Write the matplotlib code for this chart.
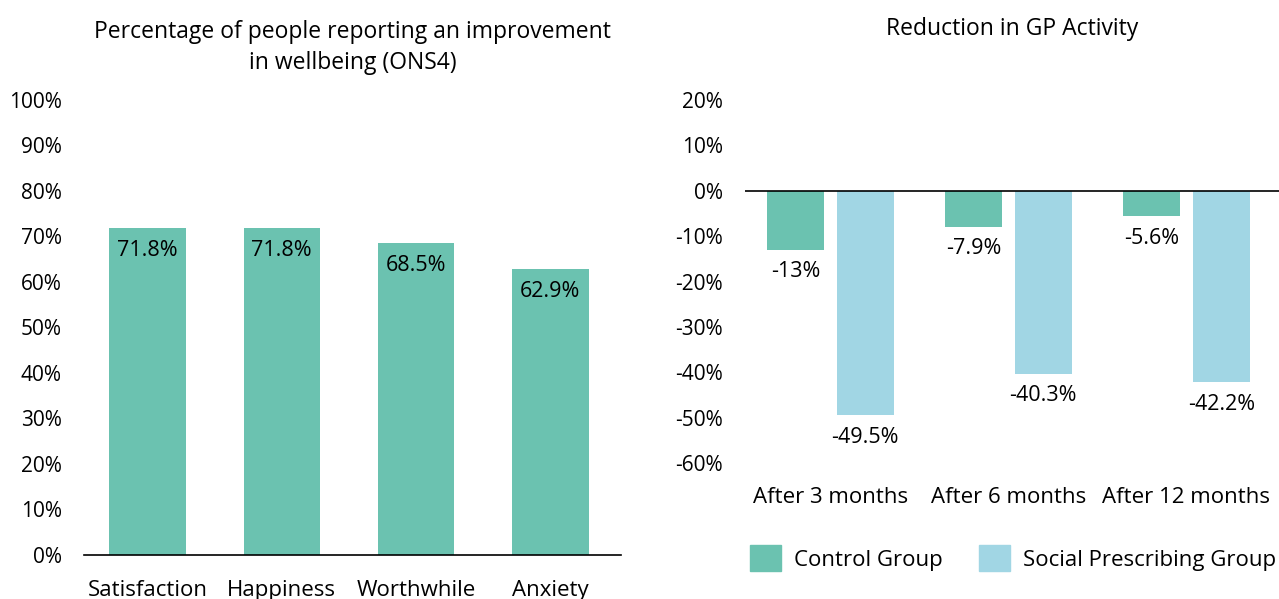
import numpy as np
import matplotlib
matplotlib.use("Agg")
import matplotlib.pyplot as plt
from matplotlib.patches import Patch

plt.rcParams['font.family'] = ['Open Sans', 'DejaVu Sans']

# wellbeing chart
wb_cats = ["Satisfaction", "Happiness", "Worthwhile", "Anxiety"]
wb_vals = [71.8, 71.8, 68.5, 62.9]

# GP activity chart
gp_cats = ["After 3 months", "After 6 months", "After 12 months"]
control_vals = [-13, -7.9, -5.6]
sp_vals = [-49.5, -40.3, -42.2]
control_labels = ["-13%", "-7.9%", "-5.6%"]
sp_labels = ["-49.5%", "-40.3%", "-42.2%"]

green = "#6BC2B0"
blue = "#A1D6E4"
fs = 16
tfs = 16.5
nfs = 15
lfs = 15.5

fig = plt.figure(figsize=(12.79, 5.99), dpi=100)

# left chart
ax1 = fig.add_axes([0.0657, 0.0735, 0.4199, 0.7596])
x = np.arange(len(wb_cats))
ax1.bar(x, wb_vals, width=0.57, color=green)
for xi, v in zip(x, wb_vals):
    ax1.annotate(f"{v}%", (xi, v), xytext=(0, -16), textcoords="offset points",
                 ha="center", va="center", fontsize=lfs)
ax1.set_xlim(-0.473, 3.527)
ax1.set_ylim(0, 100)
ax1.set_yticks(np.arange(0, 101, 10))
ax1.set_yticklabels([f"{t}%" for t in range(0, 101, 10)], fontsize=nfs)
ax1.set_xticks(x)
ax1.set_xticklabels(wb_cats, fontsize=fs)
ax1.tick_params(axis='y', length=0, pad=16)
ax1.tick_params(axis='x', length=0, pad=18)
for s in ["top", "right", "left"]:
    ax1.spines[s].set_visible(False)
ax1.spines["bottom"].set_linewidth(1.2)
ax1.set_title("Percentage of people reporting an improvement\nin wellbeing (ONS4)",
              fontsize=tfs, pad=22, linespacing=1.4)

# right chart
ax2 = fig.add_axes([0.5825, 0.227, 0.4175, 0.606])
x2 = np.arange(len(gp_cats))
off = 0.196
w = 0.32
ax2.bar(x2 - off, control_vals, width=w, color=green, label="Control Group")
ax2.bar(x2 + off, sp_vals, width=w, color=blue, label="Social Prescribing Group")
for xi, v, l in zip(x2, control_vals, control_labels):
    ax2.annotate(l, (xi - off, v), xytext=(0, -16), textcoords="offset points",
                 ha="center", va="center", fontsize=lfs)
for xi, v, l in zip(x2, sp_vals, sp_labels):
    ax2.annotate(l, (xi + off, v), xytext=(0, -16), textcoords="offset points",
                 ha="center", va="center", fontsize=lfs)
ax2.axhline(0, color="black", lw=1.2)
ax2.set_xlim(-0.48, 2.52)
ax2.set_ylim(-60, 20)
ax2.set_yticks(np.arange(-60, 21, 10))
ax2.set_yticklabels([f"{t}%" for t in range(-60, 21, 10)], fontsize=nfs)
ax2.set_xticks(x2)
ax2.set_xticklabels(gp_cats, fontsize=fs)
ax2.tick_params(axis='y', length=0, pad=16)
ax2.tick_params(axis='x', length=0, pad=17)
for s in ax2.spines.values():
    s.set_visible(False)
ax2.set_title("Reduction in GP Activity", fontsize=tfs, pad=47)

handles = [Patch(color=green, label="Control Group"),
           Patch(color=blue, label="Social Prescribing Group")]
fig.legend(handles=handles, loc="center", bbox_to_anchor=(0.792, 0.068), ncol=2,
           frameon=False, fontsize=fs, handlelength=1.4, handleheight=1.4,
           columnspacing=1.6, handletextpad=0.6)

fig.savefig("out.png", dpi=100)
